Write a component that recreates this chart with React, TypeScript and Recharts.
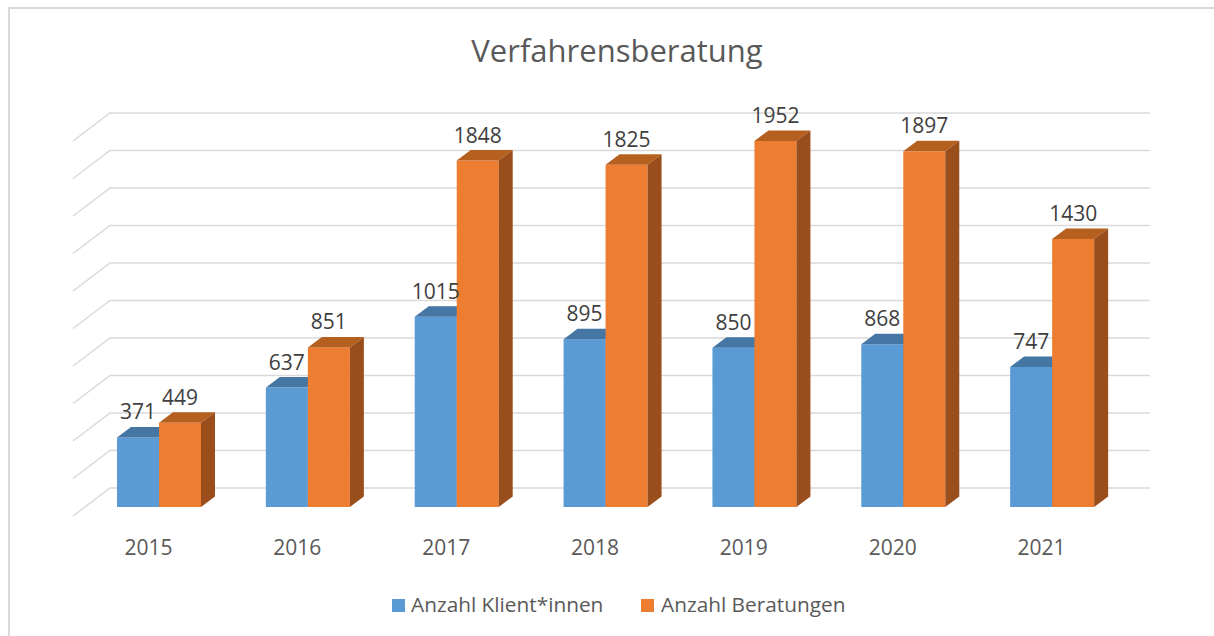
import React from 'react';
import { BarChart, Bar, XAxis, YAxis, CartesianGrid, LabelList } from 'recharts';

const years = ['2015', '2016', '2017', '2018', '2019', '2020', '2021'];
const klienten = [371, 637, 1015, 895, 850, 868, 747];
const beratungen = [449, 851, 1848, 1825, 1952, 1897, 1430];
const yTicks = [0, 200, 400, 600, 800, 1000, 1200, 1400, 1600, 1800, 2000];

const data = years.map((year, i) => ({
  year,
  klienten: klienten[i],
  beratungen: beratungen[i],
}));

const FONT = '"Open Sans", Lato, sans-serif';
const DX = 14;
const DY = 10.5;

// 3d column: front face, top face and right side
function makeBox(front, top, side) {
  return (props) => {
    const { x, y, width, height } = props;
    if (height == null || width == null) return null;
    const b = y + height;
    return (
      <g>
        <rect x={x} y={y} width={width} height={height} fill={front} />
        <path
          d={`M${x},${y} L${x + DX},${y - DY} L${x + width + DX},${y - DY} L${x + width},${y} Z`}
          fill={top}
        />
        <path
          d={`M${x + width},${y} L${x + width + DX},${y - DY} L${x + width + DX},${b - DY} L${x + width},${b} Z`}
          fill={side}
        />
      </g>
    );
  };
}

// gridline on the back wall plus the diagonal on the side wall
function wallLine(props) {
  const { x1, x2, y1, index } = props;
  const yb = y1 - 19;
  const left = x1 + 25;
  return (
    <path
      key={`grid-${index}`}
      d={`M${left - 37},${yb + 28} L${left},${yb} L${x2 + 23},${yb}`}
      stroke="#d9d9d9"
      strokeWidth={1.5}
      fill="none"
    />
  );
}

function valueLabel(props) {
  const { x, y, width, value } = props;
  return (
    <text
      x={x + width / 2}
      y={y - 18}
      textAnchor="middle"
      fill="#404040"
      fontSize={21}
      fontFamily={FONT}
    >
      {value}
    </text>
  );
}

function yearTick(props) {
  const { x, y, payload } = props;
  return (
    <text
      x={x - 11}
      y={y + 48}
      textAnchor="middle"
      fill="#595959"
      fontSize={21}
      fontFamily={FONT}
    >
      {payload.value}
    </text>
  );
}

export default function App() {
  return (
    <div style={{ position: 'absolute', left: 0, top: 0, width: 1214, height: 636, background: '#fff' }}>
      <svg width={1214} height={636} style={{ position: 'absolute', left: 0, top: 0 }}>
        <path d="M9,636 L9,8 L1214,8" stroke="#d9d9d9" strokeWidth={2} fill="none" />
        <text x={617} y={62} textAnchor="middle" fill="#595959" fontSize={31} fontFamily={FONT}>
          Verfahrensberatung
        </text>
        <rect x={392} y={599} width={13} height={13} fill="#5B9BD5" />
        <text x={411} y={612} fill="#595959" fontSize={20.8} fontFamily={FONT}>
          Anzahl Klient*innen
        </text>
        <rect x={641} y={599} width={13} height={13} fill="#ED7D31" />
        <text x={661} y={612} fill="#595959" fontSize={20.8} fontFamily={FONT}>
          Anzahl Beratungen
        </text>
      </svg>
      <div style={{ position: 'absolute', left: 0, top: 0 }}>
        <BarChart
          width={1214}
          height={636}
          data={data}
          margin={{ top: 132, right: 87, left: 85, bottom: 99 }}
          barGap={0}
          barSize={42}
        >
          <CartesianGrid vertical={false} horizontal={wallLine} />
          <XAxis
            dataKey="year"
            axisLine={false}
            tickLine={false}
            tickSize={0}
            tickMargin={0}
            height={30}
            tick={yearTick}
            interval={0}
          />
          <YAxis hide domain={[0, 2000]} ticks={yTicks} />
          <Bar
            dataKey="klienten"
            name="Anzahl Klient*innen"
            fill="#5B9BD5"
            shape={makeBox('#5B9BD5', '#4676A3', '#3F6C95')}
            isAnimationActive={false}
          >
            <LabelList dataKey="klienten" content={valueLabel} />
          </Bar>
          <Bar
            dataKey="beratungen"
            name="Anzahl Beratungen"
            fill="#ED7D31"
            shape={makeBox('#ED7D31', '#B6601F', '#9A4E1B')}
            isAnimationActive={false}
          >
            <LabelList dataKey="beratungen" content={valueLabel} />
          </Bar>
        </BarChart>
      </div>
    </div>
  );
}
